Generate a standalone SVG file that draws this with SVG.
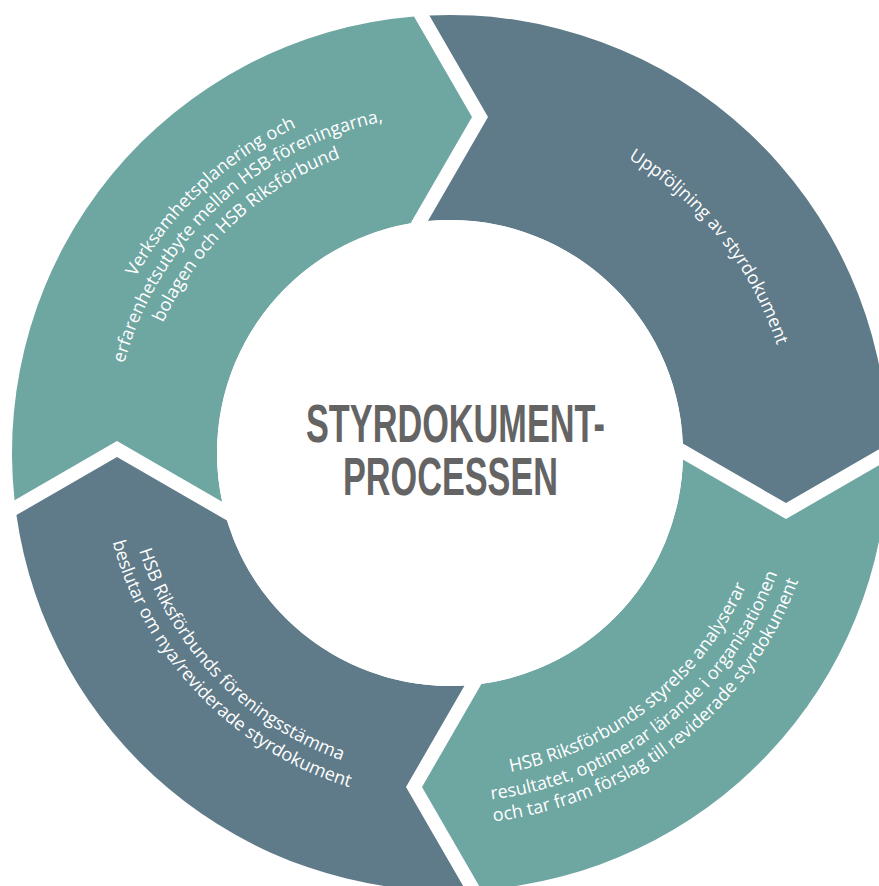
<svg xmlns="http://www.w3.org/2000/svg" xmlns:xlink="http://www.w3.org/1999/xlink" width="879" height="886" viewBox="0 0 879 886">
<style>
.teal{fill:#6ea6a2}
.dark{fill:#5f7b89}
.lbl{fill:#ffffff;font-family:"Open Sans","Noto Sans","DejaVu Sans",sans-serif;font-size:18px}
.title{fill:#646464;font-family:"Liberation Sans","Arial",sans-serif;font-weight:700;font-size:54px}
</style>
<defs>
<path id="tl1" d="M 166.3 674.7 A 360 360 0 0 1 690.9 185.5"/>
<path id="tl2" d="M 183.7 661.1 A 338 338 0 0 1 676.2 201.8"/>
<path id="tl3" d="M 201.8 646.9 A 315 315 0 0 1 660.8 218.9"/>
<path id="tr1" d="M 260.1 166.1 A 344 344 0 0 1 686.8 702.5"/>
<path id="bl1" d="M 204.0 239.1 A 326 326 0 0 0 655.2 706.3"/>
<path id="bl2" d="M 186.6 224.0 A 349 349 0 0 0 669.6 724.2"/>
<path id="br1" d="M 213.5 675.9 A 325 325 0 0 0 721.6 274.6"/>
<path id="br2" d="M 196.0 692.3 A 349 349 0 0 0 741.7 261.4"/>
<path id="br3" d="M 180.0 707.4 A 371 371 0 0 0 760.1 249.3"/>
</defs>
<rect width="879" height="886" fill="#ffffff"/>
<g id="connectors"></g>
<g id="seg-planering">
<path class="teal" d="M 14.54 500.15 A 438 438 0 0 1 413.97 16.48 L 472 117 L 410.59 223.35 A 233 233 0 0 0 222.15 501.71 L 117 441 Z"/>
<text class="lbl" text-anchor="middle"><textPath xlink:href="#tl1" href="#tl1" startOffset="50%">Verksamhetsplanering och</textPath></text>
<text class="lbl" text-anchor="middle"><textPath xlink:href="#tl2" href="#tl2" startOffset="50%">erfarenhetsutbyte mellan HSB-föreningarna,</textPath></text>
<text class="lbl" text-anchor="middle"><textPath xlink:href="#tl3" href="#tl3" startOffset="50%">bolagen och HSB Riksförbund</textPath></text>
</g>
<g id="seg-uppfoljning">
<path class="dark" d="M 429.39 15.49 A 438 438 0 0 1 887.91 444.16 L 786 503 L 682.8 443.42 A 233 233 0 0 0 427.93 221.05 L 488 117 Z"/>
<text class="lbl" text-anchor="middle"><textPath xlink:href="#tr1" href="#tr1" startOffset="50%">Uppföljning av styrdokument</textPath></text>
</g>
<g id="seg-analys">
<path class="teal" d="M 887.94 460.14 A 438 438 0 0 1 481.4 889.87 L 422 787 L 481.56 683.85 A 233 233 0 0 0 682.91 459.48 L 786 519 Z"/>
<text class="lbl" text-anchor="middle"><textPath xlink:href="#br1" href="#br1" startOffset="50%">HSB Riksförbunds styrelse analyserar</textPath></text>
<text class="lbl" text-anchor="middle"><textPath xlink:href="#br2" href="#br2" startOffset="50%">resultatet, optimerar lärande i organisationen</textPath></text>
<text class="lbl" text-anchor="middle"><textPath xlink:href="#br3" href="#br3" startOffset="50%">och tar fram förslag till reviderade styrdokument</textPath></text>
</g>
<g id="seg-stamma">
<path class="dark" d="M 465.88 890.71 A 438 438 0 0 1 16.42 515.07 L 117 457 L 227 520.5 A 233 233 0 0 0 464.58 685.54 L 406 787 Z"/>
<text class="lbl" text-anchor="middle"><textPath xlink:href="#bl1" href="#bl1" startOffset="50%">HSB Riksförbunds föreningsstämma</textPath></text>
<text class="lbl" text-anchor="middle"><textPath xlink:href="#bl2" href="#bl2" startOffset="50%">beslutar om nya/reviderade styrdokument</textPath></text>
</g>
<g id="center">
<circle cx="450" cy="453" r="233" fill="#ffffff"/>
<text class="title" x="455.5" y="442" text-anchor="middle" textLength="299" lengthAdjust="spacingAndGlyphs">STYRDOKUMENT-</text>
<text class="title" x="450.5" y="495" text-anchor="middle" textLength="215" lengthAdjust="spacingAndGlyphs">PROCESSEN</text>
</g>
</svg>
